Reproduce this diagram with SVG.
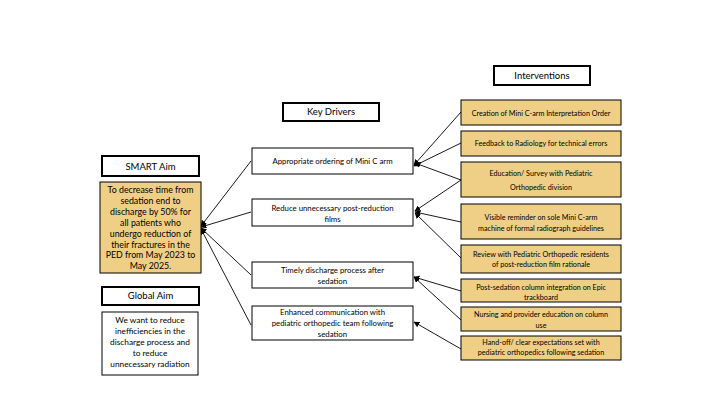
<svg xmlns="http://www.w3.org/2000/svg" width="720" height="420" viewBox="0 0 720 420">
<defs>
<style>
text{font-family:Lato,"Open Sans","Liberation Sans",sans-serif;fill:#000;text-anchor:middle}
.hdr{fill:#fff;stroke:#000;stroke-width:2}
.box{fill:#fff;stroke:#000;stroke-width:1}
.tan{fill:#EFCF85;stroke:#000;stroke-width:1}
.h{font-size:9.5px}
.d{font-size:7.8px}
.i{font-size:7.2px}
.a{font-size:8.8px}
.g{font-size:8.3px}
.c{fill:none;stroke:#000;stroke-width:0.9;marker-end:url(#ah)}
</style>
<marker id="ah" viewBox="0 0 10 10" refX="9" refY="5" markerWidth="6" markerHeight="6" orient="auto" markerUnits="userSpaceOnUse">
<path d="M0,0 L10,5 L0,10 z" fill="#000"/>
</marker>
</defs>
<rect width="720" height="420" fill="#fff"/>

<g id="connectors">
<line class="c" x1="251" y1="161" x2="201" y2="226"/>
<line class="c" x1="251" y1="212" x2="201" y2="227"/>
<line class="c" x1="251" y1="275" x2="201" y2="228"/>
<line class="c" x1="251" y1="325" x2="201" y2="229"/>
<line class="c" x1="461" y1="112" x2="414" y2="165"/>
<line class="c" x1="461" y1="143" x2="414" y2="166"/>
<line class="c" x1="461" y1="180" x2="415" y2="163"/>
<line class="c" x1="461" y1="180" x2="415" y2="211"/>
<line class="c" x1="461" y1="222" x2="415" y2="212"/>
<line class="c" x1="461" y1="258" x2="415" y2="213"/>
<line class="c" x1="461" y1="291" x2="414" y2="277"/>
<line class="c" x1="461" y1="320" x2="414" y2="277"/>
<line class="c" x1="461" y1="349" x2="414" y2="322"/>
</g>

<g id="smart-aim-title"><rect class="hdr" x="102" y="156" width="97" height="20"/><text class="h" x="150.5" y="169.5">SMART Aim</text></g>
<g id="smart-aim"><rect class="tan" x="100" y="182" width="101" height="91"/>
<text class="a"><tspan x="150.5" y="193">To decrease time from</tspan><tspan x="150.5" y="204">sedation end to</tspan><tspan x="150.5" y="215">discharge by 50% for</tspan><tspan x="150.5" y="225.5">all patients who</tspan><tspan x="150.5" y="236.5">undergo reduction of</tspan><tspan x="150.5" y="247.5">their fractures in the</tspan><tspan x="150.5" y="258">PED  from May 2023 to</tspan><tspan x="150.5" y="269">May 2025.</tspan></text></g>

<g id="global-aim-title"><rect class="hdr" x="102" y="287" width="97" height="18"/><text class="h" x="150.5" y="299">Global Aim</text></g>
<g id="global-aim"><rect class="box" x="102" y="312" width="96" height="63"/>
<text class="g"><tspan x="150" y="323">We want to reduce</tspan><tspan x="150" y="334">inefficiencies in the</tspan><tspan x="150" y="345">discharge process and</tspan><tspan x="150" y="356">to reduce</tspan><tspan x="150" y="367">unnecessary radiation</tspan></text></g>

<g id="key-drivers-title"><rect class="hdr" x="283" y="103" width="96" height="18"/><text class="h" x="331" y="115">Key Drivers</text></g>
<g id="driver-1"><rect class="box" x="252" y="148" width="161" height="26"/><text class="d" x="332.5" y="164">Appropriate ordering of Mini C arm</text></g>
<g id="driver-2"><rect class="box" x="252" y="199" width="161" height="27"/><text class="d"><tspan x="332.5" y="210.5">Reduce unnecessary post-reduction</tspan><tspan x="332.5" y="222">films</tspan></text></g>
<g id="driver-3"><rect class="box" x="252" y="262" width="161" height="26"/><text class="d"><tspan x="332.5" y="273">Timely discharge process after</tspan><tspan x="332.5" y="284">sedation</tspan></text></g>
<g id="driver-4"><rect class="box" x="252" y="306" width="161" height="34"/><text class="d"><tspan x="332.5" y="315">Enhanced communication with</tspan><tspan x="332.5" y="326">pediatric orthopedic team following</tspan><tspan x="332.5" y="336.5">sedation</tspan></text></g>

<g id="interventions-title"><rect class="hdr" x="494" y="66" width="96" height="19"/><text class="h" x="542" y="78.5">Interventions</text></g>
<g id="int-1"><rect class="tan" x="461" y="100" width="160" height="25"/><text class="i" x="541" y="115.5">Creation of Mini C-arm Interpretation Order</text></g>
<g id="int-2"><rect class="tan" x="461" y="131" width="160" height="25"/><text class="i" x="541" y="146">Feedback to Radiology for technical errors</text></g>
<g id="int-3"><rect class="tan" x="461" y="162" width="160" height="35"/><text class="i"><tspan x="541" y="176">Education/ Survey with Pediatric</tspan><tspan x="541" y="189.5">Orthopedic division</tspan></text></g>
<g id="int-4"><rect class="tan" x="461" y="204" width="160" height="35"/><text class="i"><tspan x="541" y="220">Visible reminder on sole Mini C-arm</tspan><tspan x="541" y="231">machine of formal radiograph guidelines</tspan></text></g>
<g id="int-5"><rect class="tan" x="461" y="245" width="160" height="28"/><text class="i"><tspan x="541" y="256.5">Review with Pediatric Orthopedic residents</tspan><tspan x="541" y="267">of post-reduction film rationale</tspan></text></g>
<g id="int-6"><rect class="tan" x="461" y="279" width="160" height="23"/><text class="i"><tspan x="541" y="289.5">Post-sedation column integration on Epic</tspan><tspan x="541" y="299.5">trackboard</tspan></text></g>
<g id="int-7"><rect class="tan" x="461" y="307" width="160" height="24"/><text class="i"><tspan x="541" y="317">Nursing and provider education on column</tspan><tspan x="541" y="327.5">use</tspan></text></g>
<g id="int-8"><rect class="tan" x="461" y="336" width="160" height="24"/><text class="i"><tspan x="541" y="345">Hand-off/ clear expectations set with</tspan><tspan x="541" y="355">pediatric orthopedics following sedation</tspan></text></g>
</svg>
